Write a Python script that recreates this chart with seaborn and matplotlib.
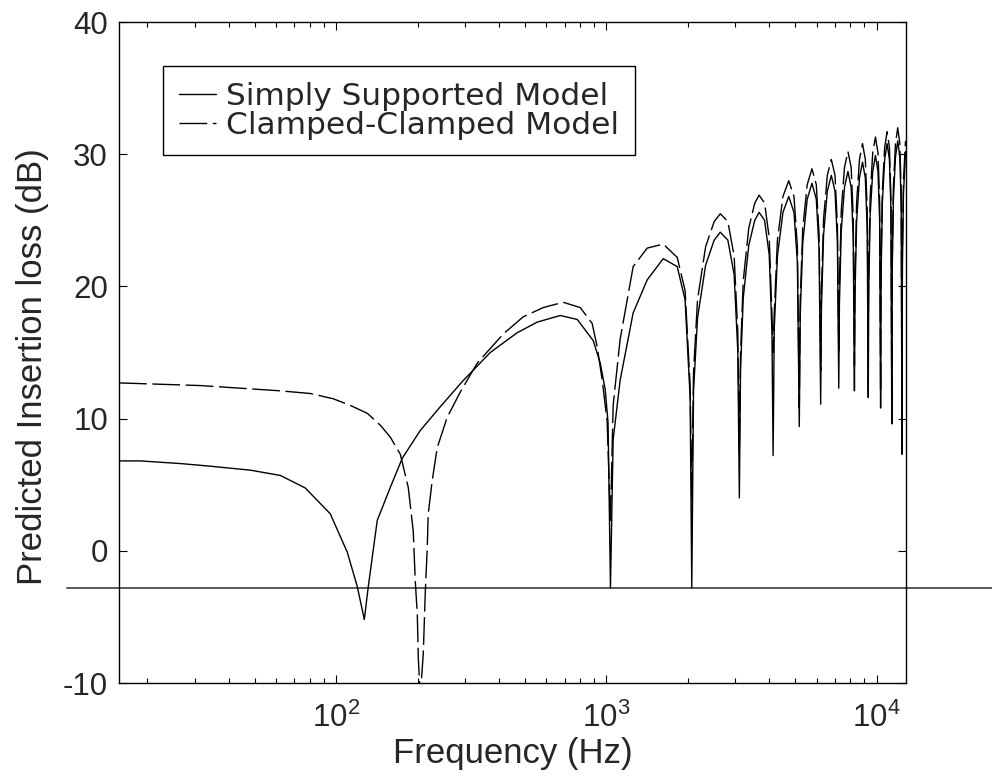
import matplotlib
matplotlib.use('Agg')
import matplotlib.pyplot as plt
import pandas as pd
import seaborn as sns

# ---------------- data ----------------
series_labels = ['Simply Supported Model', 'Clamped-Clamped Model']

# low-frequency part, simply supported (solid)
freq_lo_ss = [15.7, 18.8, 26.5, 34.2, 48.1, 62.1, 76.8, 95.0, 109.8, 119.6, 127.0,
              131.4, 141.8, 158.5, 175.5, 204.6, 242.7, 292.6, 371.5, 467.7,
              554.6, 674.5, 779.8, 893.6, 948.8, 989.7, 1014]
il_lo_ss = [6.8, 6.8, 6.6, 6.4, 6.1, 5.7, 4.75, 2.8, -0.1, -2.7, -5.2,
            -2.7, 2.3, 4.8, 7.0, 9.1, 10.9, 12.8, 15.0, 16.5,
            17.3, 17.8, 17.5, 15.9, 14.2, 12.2, 9.7]

# low-frequency part, clamped-clamped (dashed)
freq_lo_cc = [15.7, 31.4, 62.1, 80.1, 97.5, 112.7, 130.3, 145.6, 158.5, 172.6,
              184.7, 192.7, 196.1, 199.5, 201.2, 204.6, 209.9, 213.4, 217.1,
              219.0, 226.5, 236.4, 257.4, 287.6, 332.5, 415.0, 492.0, 583.6,
              691.8, 799.8, 885.6, 924.7, 964.9, 1006]
il_lo_cc = [12.7, 12.5, 12.1, 11.9, 11.5, 11.0, 10.4, 9.5, 8.6, 7.3,
            4.8, 1.5, -2.3, -4.8, -8.1, -11.0, -7.8, -3.3, 0.2,
            2.8, 5.3, 7.8, 10.1, 12.0, 14.2, 16.4, 17.7, 18.4,
            18.8, 18.4, 17.2, 15.4, 12.9, 9.8]

# high-frequency part (shared frequency grid)
freq_hi = [1035, 1059, 1124, 1256, 1416, 1623, 1828, 1955, 2041,
           2070, 2101, 2174, 2329, 2505, 2639, 2815, 2970, 3064,
           3105, 3136, 3209, 3364, 3540, 3674, 3850, 4005, 4099,
           4140, 4181, 4295, 4502, 4730, 4947, 5092,
           5175, 5216, 5330, 5537, 5765, 5982, 6127,
           6210, 6251, 6365, 6572, 6800, 7017, 7162,
           7245, 7286, 7400, 7607, 7835, 8052, 8197,
           8280, 8321, 8435, 8642, 8870, 9087, 9232,
           9315, 9356, 9470, 9677, 9905, 10122, 10267,
           10350, 10391, 10505, 10712, 10940, 11157, 11302,
           11385, 11426, 11540, 11747, 11975, 12192, 12337,
           12420, 12461, 12575, 12800]
il_hi_ss = [-2.8, 8.4, 12.9, 18.0, 20.5, 22.1, 21.5, 19.0, 11.6,
            -2.8, 12.1, 17.6, 21.6, 23.5, 24.1, 23.5, 20.9, 15.1,
            4.0, 13.6, 19.1, 23.1, 25.0, 25.6, 25.0, 22.4, 16.6,
            7.2, 16.8, 22.3, 25.6, 26.8, 25.6, 21.8,
            9.4, 17.8, 23.3, 26.6, 27.8, 26.6, 22.8,
            11.1, 18.4, 23.9, 27.2, 28.4, 27.2, 23.4,
            12.3, 18.7, 24.2, 27.5, 28.7, 27.5, 23.7,
            12.1, 19.4, 24.9, 28.2, 29.4, 28.2, 24.4,
            11.6, 19.9, 25.4, 28.7, 29.9, 28.7, 24.9,
            10.8, 20.8, 26.3, 29.6, 30.8, 29.6, 25.8,
            9.6, 21.0, 26.5, 29.8, 31.0, 29.8, 26.0,
            7.3, 21.5, 27.0, 30.2]
il_hi_cc = [2.3, 11.0, 16.0, 21.5, 22.9, 23.2, 22.2, 19.7, 12.5,
            3.8, 13.5, 19.0, 23.0, 24.9, 25.5, 24.9, 22.3, 16.5,
            7.5, 14.9, 20.4, 24.4, 26.3, 26.9, 26.3, 23.7, 17.9,
            15.0, 18.0, 23.5, 26.8, 28.0, 26.8, 23.0,
            10.8, 18.9, 24.4, 27.7, 28.9, 27.7, 23.9,
            13.6, 19.6, 25.1, 28.4, 29.6, 28.4, 24.6,
            14.9, 20.2, 25.7, 29.0, 30.2, 29.0, 25.2,
            14.0, 20.8, 26.3, 29.6, 30.8, 29.6, 25.8,
            17.0, 21.3, 26.8, 30.1, 31.3, 30.1, 26.3,
            12.0, 21.7, 27.2, 30.5, 31.7, 30.5, 26.7,
            11.0, 22.0, 27.5, 30.8, 32.0, 30.8, 27.0,
            9.0, 22.5, 28.0, 31.0]

ref_level = -2.8
x_limits = (15.7, 12850)
y_limits = (-10, 40)
y_ticks = [-10, 0, 10, 20, 30, 40]

# ---------------- styling ----------------
sns.set_style('ticks')
plt.rcParams['font.family'] = ['Liberation Sans', 'DejaVu Sans']
plt.rcParams['axes.unicode_minus'] = False
plt.rcParams['mathtext.default'] = 'regular'

df_ss = pd.DataFrame({'freq': freq_lo_ss + freq_hi, 'il': il_lo_ss + il_hi_ss})
df_cc = pd.DataFrame({'freq': freq_lo_cc + freq_hi, 'il': il_lo_cc + il_hi_cc})

fig = plt.figure(figsize=(9.92, 7.78), dpi=100)
ax = fig.add_axes([0.12, 0.1221, 0.7933, 0.8496])
ax.set_xscale('log')

sns.lineplot(data=df_ss, x='freq', y='il', ax=ax, color='black', lw=1.0,
             sort=False, estimator=None, label=series_labels[0])
sns.lineplot(data=df_cc, x='freq', y='il', ax=ax, color='black', lw=1.0,
             sort=False, estimator=None, label=series_labels[1],
             linestyle=(0, (20, 4)))

ax.axhline(ref_level, xmin=-0.066, xmax=1.11, clip_on=False,
           color='#3c3c3c', lw=1.2, zorder=1)

ax.set_xlim(*x_limits)
ax.set_ylim(*y_limits)
ax.set_yticks(y_ticks)

for s in ax.spines.values():
    s.set_visible(True)
    s.set_color('black')
    s.set_linewidth(1.0)

ax.tick_params(which='both', direction='in', top=True, right=True,
               color='black', width=0.8, labelsize=22.5, pad=8)
ax.tick_params(axis='x', which='both', pad=14)
ax.tick_params(which='major', length=5.8)
ax.tick_params(which='minor', length=3.6)

ax.set_xlabel('Frequency (Hz)', fontsize=25, labelpad=2)
ax.set_ylabel('Predicted Insertion loss (dB)', fontsize=25)
ax.yaxis.set_label_coords(-0.089, 0.478)

leg = ax.legend(loc='upper left', bbox_to_anchor=(0.0559, 0.9334),
                borderaxespad=0, frameon=True, fancybox=False,
                prop={'family': ['DejaVu Sans'], 'size': 22.5},
                edgecolor='black', framealpha=1, handlelength=1.2,
                handletextpad=0.32, labelspacing=0.0, borderpad=0.5)
leg.get_frame().set_linewidth(1.0)

fig.savefig('out.png', dpi=100, facecolor='white')
